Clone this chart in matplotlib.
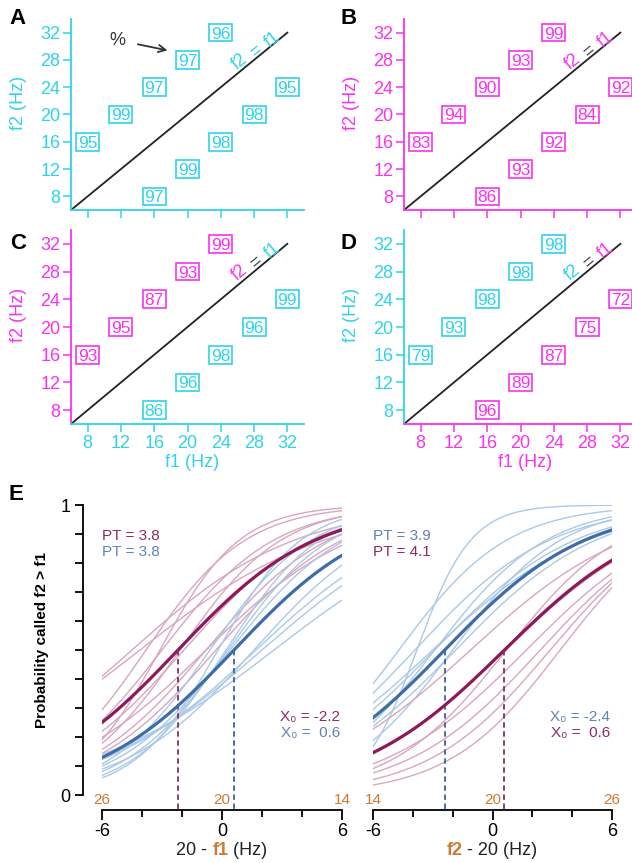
import numpy as np
import matplotlib
matplotlib.use("Agg")
import matplotlib.pyplot as plt
from matplotlib.patches import Rectangle
from matplotlib.transforms import ScaledTranslation
from matplotlib.offsetbox import TextArea, HPacker, AnnotationBbox

plt.rcParams["font.family"] = ["Liberation Sans", "DejaVu Sans"]
plt.rcParams["axes.unicode_minus"] = False

# ---------------- colours ----------------
CYAN = "#30D3E6"
MAG = "#F733EE"
DARK_MAG = "#8C1A5B"
DARK_BLUE = "#3C6DA8"
LIGHT_MAG = "#D9A6BF"
LIGHT_BLUE = "#ABC9E6"
ORANGE = "#CF7A33"
TXT_MAG = "#8E2A63"
TXT_BLUE = "#5F83B4"

# ---------------- panels A-D: percent correct per stimulus pair ----------------
upper_f1 = [8, 12, 16, 20, 24]
upper_f2 = [16, 20, 24, 28, 32]
lower_f1 = [16, 20, 24, 28, 32]
lower_f2 = [8, 12, 16, 20, 24]
axis_ticks = [8, 12, 16, 20, 24, 28, 32]

A_upper = [95, 99, 97, 97, 96]
A_lower = [97, 99, 98, 98, 95]
B_upper = [83, 94, 90, 93, 99]
B_lower = [86, 93, 92, 84, 92]
C_upper = [93, 95, 87, 93, 99]
C_lower = [86, 96, 98, 96, 99]
D_upper = [79, 93, 98, 98, 98]
D_lower = [96, 89, 87, 75, 72]

# ---------------- panel E: psychometric fits (x0, PT) ----------------
xs = np.linspace(-6, 6, 200)

E_left_mean_mag = (-2.2, 3.8)
E_left_mean_blue = (0.6, 3.8)
E_left_thin_mag_x0 = [-4.5, -4.1, -3.8, -3.0, -1.9, -2.1, -0.8, -0.3, -0.8, -3.1]
E_left_thin_mag_pt = [4.5, 5.1, 2.75, 3.1, 3.55, 2.8, 3.4, 3.5, 4.1, 2.2]
E_left_thin_blue_x0 = [-0.2, 0.3, 0.4, 1.6, 1.7, 2.0, 2.6, 0.2, -0.6]
E_left_thin_blue_pt = [2.3, 2.85, 3.2, 3.6, 4.3, 4.6, 5.2, 2.6, 2.8]

E_right_mean_blue = (-2.4, 3.9)
E_right_mean_mag = (0.6, 4.1)
E_right_thin_blue_x0 = [-3.8, -4.7, -3.9, -2.9, -1.85, -2.0, -2.9, -3.0]
E_right_thin_blue_pt = [1.5, 3.0, 3.75, 3.9, 3.9, 3.0, 3.1, 4.3]
E_right_thin_mag_x0 = [-1.1, 1.7, 2.4, 2.9, 3.4, 0.65, 0.7]
E_right_thin_mag_pt = [4.4, 4.0, 3.7, 3.4, 3.1, 4.2, 3.2]

left_ref_labels = ["26", "20", "14"]
right_ref_labels = ["14", "20", "26"]
ref_label_x = [-6, 0, 6]


def psychometric(x, x0, pt):
    return 1.0 / (1.0 + np.exp(-(x - x0) * np.log(3.0) / pt))


W, H = 632, 863
fig = plt.figure(figsize=(W / 100, H / 100), dpi=100)


def add_px(left, top, width, height):
    return fig.add_axes([left / W, 1 - (top + height) / H, width / W, height / H])


def boxed_value(ax, x, y, value, col):
    # fixed-size frame (in inches) centred on the data point
    trans = fig.dpi_scale_trans + ScaledTranslation(x, y, ax.transData)
    ax.add_patch(Rectangle((-0.115, -0.088), 0.23, 0.176, transform=trans, fc="white",
                           ec=col, lw=1.2, zorder=3, clip_on=False))
    ax.text(x, y, str(value), ha="center", va="center_baseline", color=col, fontsize=12.5,
            zorder=4)


def grid_panel(ax, ycol, xcol, upper, lower, upcol, lowcol, eq_cols, show_xlabels):
    ax.set_xlim(6, 34)
    ax.set_ylim(6, 34)
    for s in ("top", "right"):
        ax.spines[s].set_visible(False)
    ax.spines["left"].set_color(ycol)
    ax.spines["bottom"].set_color(xcol)
    ax.spines["left"].set_linewidth(1.3)
    ax.spines["bottom"].set_linewidth(1.3)
    ax.set_xticks(axis_ticks)
    ax.set_yticks(axis_ticks)
    ax.tick_params(axis="y", colors=ycol, labelsize=13, length=6, width=1.1, pad=1.5)
    ax.tick_params(axis="x", colors=xcol, labelsize=13, length=6, width=1.1, pad=2,
                   labelbottom=show_xlabels)
    ax.set_ylabel("f2 (Hz)", color=ycol, fontsize=13)
    ax.yaxis.set_label_coords(-0.19, 0.56)
    if show_xlabels:
        ax.set_xlabel("f1 (Hz)", color=xcol, fontsize=13)
        ax.xaxis.set_label_coords(0.52, -0.155)
    ax.plot([6, 32], [6, 32], color="#222222", lw=1.3, zorder=1)
    for f1, f2, v in zip(upper_f1, upper_f2, upper):
        boxed_value(ax, f1, f2, v, upcol)
    for f1, f2, v in zip(lower_f1, lower_f2, lower):
        boxed_value(ax, f1, f2, v, lowcol)
    # rotated "f2 = f1" along the diagonal, one colour per piece
    for (px, py), txt, c in zip([(26.3, 27.8), (28.25, 29.3), (30.2, 31.0)],
                                ["f2", "=", "f1"], eq_cols):
        ax.text(px, py, txt, color=c, fontsize=13, rotation=45, transform_rotates_text=True,
                rotation_mode="anchor", ha="center", va="center", zorder=2)


axA = add_px(71, 19, 233, 191)
grid_panel(axA, CYAN, CYAN, A_upper, A_lower, CYAN, CYAN, [CYAN, CYAN, CYAN], False)
axA.annotate("%", xy=(17.6, 29.4), xytext=(11.6, 30.9), color="#333333", fontsize=13,
             ha="center", va="center",
             arrowprops=dict(arrowstyle="->", color="#333333", lw=1.3, shrinkA=7, shrinkB=0))

axB = add_px(404, 19, 233, 191)
grid_panel(axB, MAG, MAG, B_upper, B_lower, MAG, MAG, [MAG, "#444444", MAG], False)

axC = add_px(71, 230, 233, 194)
grid_panel(axC, MAG, CYAN, C_upper, C_lower, MAG, CYAN, [MAG, "#444444", CYAN], True)

axD = add_px(404, 230, 233, 194)
grid_panel(axD, CYAN, MAG, D_upper, D_lower, CYAN, MAG, [CYAN, "#444444", MAG], True)

for letter, (lx, ly) in zip("ABCDE", [(18, 18), (349, 18), (18, 243), (349, 243), (16, 494)]):
    fig.text(lx / W, 1 - ly / H, letter, fontsize=16, fontweight="bold", ha="center", va="center")

# ---------------- panel E ----------------
axL = add_px(102, 505, 240, 290)
axR = add_px(373, 505, 239, 290)


def e_panel(ax, thin_sets, means, show_y):
    ax.set_xlim(-6, 6)
    ax.set_ylim(0, 1)
    for s in ("top", "right"):
        ax.spines[s].set_visible(False)
    ax.spines["bottom"].set_position(("outward", 10.8))
    ax.spines["bottom"].set_linewidth(1.3)
    ax.set_xticks([-6, 0, 6])
    ax.set_xticks([-4, -2, 2, 4], minor=True)
    ax.tick_params(axis="x", which="major", length=7, width=1.3, labelsize=13, pad=2)
    ax.tick_params(axis="x", which="minor", length=5, width=1.3)
    if show_y:
        ax.spines["left"].set_position(("outward", 13.7))
        ax.spines["left"].set_linewidth(1.3)
        ax.set_yticks(np.arange(0, 1.01, 0.1))
        ax.set_yticklabels(["0"] + [""] * 9 + ["1"])
        ax.tick_params(axis="y", length=6, width=1.3, labelsize=13, pad=3)
    else:
        ax.spines["left"].set_visible(False)
        ax.set_yticks([])
    for x0s, pts, col in thin_sets:
        for x0, pt in zip(x0s, pts):
            ax.plot(xs, psychometric(xs, x0, pt), color=col, lw=1.0, zorder=2)
    for (x0, pt), col, dcol in means:
        ax.plot(xs, psychometric(xs, x0, pt), color=col, lw=2.3, zorder=3)
        ax.plot([x0, x0], [psychometric(x0, x0, pt), -15 / 290], color=dcol, lw=1.3,
                ls=(0, (3, 2)), clip_on=False, zorder=3)


e_panel(axL,
        [(E_left_thin_mag_x0, E_left_thin_mag_pt, LIGHT_MAG),
         (E_left_thin_blue_x0, E_left_thin_blue_pt, LIGHT_BLUE)],
        [(E_left_mean_mag, DARK_MAG, "#7A3463"), (E_left_mean_blue, DARK_BLUE, "#3D62A3")],
        True)
e_panel(axR,
        [(E_right_thin_blue_x0, E_right_thin_blue_pt, LIGHT_BLUE),
         (E_right_thin_mag_x0, E_right_thin_mag_pt, LIGHT_MAG)],
        [(E_right_mean_blue, DARK_BLUE, "#3D62A3"), (E_right_mean_mag, DARK_MAG, "#7A3463")],
        False)

# fit parameter labels
axL.text(-6, 0.893, f"PT = {E_left_mean_mag[1]}", color=TXT_MAG, fontsize=11, va="center")
axL.text(-6, 0.838, f"PT = {E_left_mean_blue[1]}", color=TXT_BLUE, fontsize=11, va="center")
axR.text(-6, 0.893, f"PT = {E_right_mean_blue[1]}", color=TXT_BLUE, fontsize=11, va="center")
axR.text(-6, 0.838, f"PT = {E_right_mean_mag[1]}", color=TXT_MAG, fontsize=11, va="center")
axL.text(5.9, 0.269, f"X\u2080 = {E_left_mean_mag[0]}", color=TXT_MAG, fontsize=11,
         ha="right", va="center")
axL.text(5.9, 0.214, f"X\u2080 =  {E_left_mean_blue[0]}", color=TXT_BLUE, fontsize=11,
         ha="right", va="center")
axR.text(5.9, 0.269, f"X\u2080 = {E_right_mean_blue[0]}", color=TXT_BLUE, fontsize=11,
         ha="right", va="center")
axR.text(5.9, 0.214, f"X\u2080 =  {E_right_mean_mag[0]}", color=TXT_MAG, fontsize=11,
         ha="right", va="center")

# stimulus frequency labels along the x axis
for ax, labels in ((axL, left_ref_labels), (axR, right_ref_labels)):
    for x, lab in zip(ref_label_x, labels):
        ax.annotate(lab, xy=(x, 0), xycoords=("data", "axes fraction"), xytext=(0, -3.5),
                    textcoords="offset points", ha="center", va="center", color=ORANGE,
                    fontsize=11)


def colored_label(ax, parts, xy_px):
    boxes = [TextArea(t, textprops=dict(color=c, fontsize=13, fontweight=w)) for t, c, w in parts]
    pack = HPacker(children=boxes, align="baseline", pad=0, sep=0)
    ab = AnnotationBbox(pack, (xy_px[0] / W, 1 - xy_px[1] / H), xycoords="figure fraction",
                        frameon=False, box_alignment=(0.5, 0.5))
    ax.add_artist(ab)


colored_label(axL, [("20 - ", "#222222", "normal"), ("f1", ORANGE, "bold"),
                    (" (Hz)", "#222222", "normal")], (222, 850))
colored_label(axR, [("f2", ORANGE, "bold"), (" - 20 (Hz)", "#222222", "normal")], (492, 850))

fig.text(42 / W, 1 - 640 / H, "Probability called f2 > f1", rotation=90, fontsize=11,
         fontweight="bold", ha="center", va="center")

fig.savefig("out.png", dpi=100)
